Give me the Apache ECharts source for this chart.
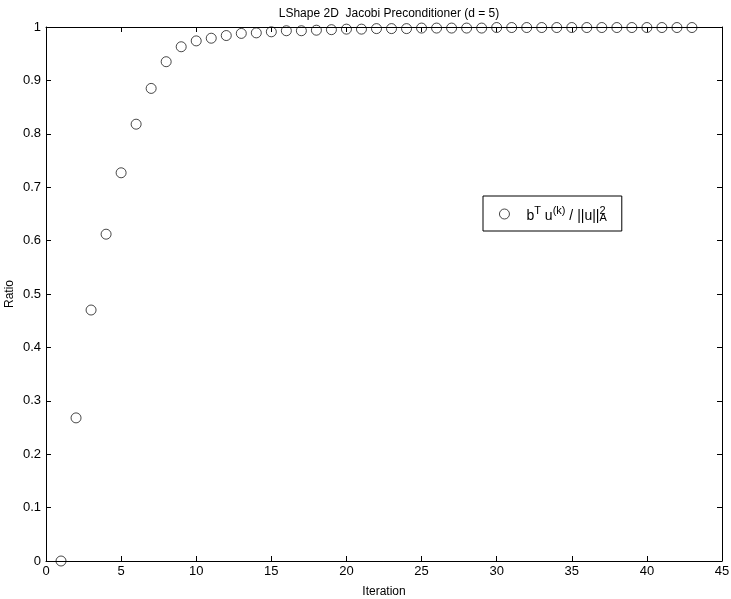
<!DOCTYPE html>
<html><head><meta charset="utf-8">
<script src="https://cdn.jsdelivr.net/npm/echarts@6/dist/echarts.min.js"></script>
<style>html,body{margin:0;padding:0;background:#fff}#c{width:731px;height:599px}</style>
</head><body><div id="c"></div>
<script>
const iterations = [1,2,3,4,5,6,7,8,9,10,11,12,13,14,15,16,17,18,19,20,21,22,23,24,25,26,27,28,29,30,31,32,33,34,35,36,37,38,39,40,41,42,43];
const ratios = [0.000,0.268,0.470,0.612,0.727,0.818,0.885,0.935,0.963,0.974,0.979,0.984,0.988,0.989,0.991,0.993,0.993,0.994,0.995,0.996,0.996,0.997,0.997,0.997,0.998,0.998,0.998,0.998,0.998,0.999,0.999,0.999,0.999,0.999,0.999,0.999,0.999,0.999,0.999,0.999,0.999,0.999,0.999];
const xTicks = [0,5,10,15,20,25,30,35,40,45];
const yTicks = [0,0.1,0.2,0.3,0.4,0.5,0.6,0.7,0.8,0.9,1];
const titleText = 'LShape 2D  Jacobi Preconditioner (d = 5)';
const seriesName = 'ratio';

const FONT = 'Liberation Sans, Arial, Helvetica, sans-serif';
const chart = echarts.init(document.getElementById('c'), null, {renderer:'canvas'});
const axBase = {
  axisLine:{show:true, onZero:false, lineStyle:{color:'#000', width:1}},
  axisTick:{show:true, inside:true, length:5, lineStyle:{color:'#000'}},
  splitLine:{show:false}
};
chart.setOption({
  backgroundColor:'#fff',
  animation:false,
  title:{text:titleText, left:384, textAlign:'center', top:3, textStyle:{fontFamily:FONT, fontSize:12, fontWeight:'normal', color:'#000'}},
  grid:{left:46, right:9, top:27, bottom:38, containLabel:false, outerBoundsMode:'none'},
  legend:{
    left:483, top:196, padding:[8,15,7,16],
    borderColor:'#000', borderWidth:1, itemWidth:10, itemHeight:10, itemGap:8,
    data:[seriesName],
    itemStyle:{color:'rgba(0,0,0,0)', borderColor:'#000', borderWidth:0.9},
    formatter: () => '{g|}{n|b}{sup|T}{n| u}{sup|(k)}{n| / ||u||}{sup2|2}{sub|A}',
    textStyle:{fontFamily:FONT, color:'#000', fontSize:13,
      rich:{
        g:{width:12},
        n:{fontFamily:FONT, fontSize:14, color:'#000', verticalAlign:'bottom', lineHeight:18},
        sup:{fontFamily:FONT, fontSize:11, color:'#000', verticalAlign:'top', padding:[0,0,8,0], lineHeight:11},
        sup2:{fontFamily:FONT, fontSize:11, color:'#000', verticalAlign:'top', padding:[0,0,8,0], lineHeight:11, width:0},
        sub:{fontFamily:FONT, fontSize:11, color:'#000', verticalAlign:'bottom', padding:[8,0,0,0], lineHeight:11}
      }}
  },
  xAxis:[
    Object.assign({type:'value', min:0, max:45, interval:5, position:'bottom',
      name:'Iteration', nameLocation:'middle', nameGap:25, nameMoveOverlap:false,
      nameTextStyle:{fontFamily:FONT, fontSize:12, color:'#000'},
      axisLabel:{fontFamily:FONT, fontSize:13, color:'#000', margin:4}}, axBase),
    Object.assign({type:'value', min:0, max:45, interval:5, position:'top', axisLabel:{show:false}}, axBase)
  ],
  yAxis:[
    Object.assign({type:'value', min:0, max:1, interval:0.1, position:'left',
      name:'Ratio', nameLocation:'middle', nameGap:30, nameRotate:90, nameMoveOverlap:false,
      nameTextStyle:{fontFamily:FONT, fontSize:12, color:'#000'},
      axisLabel:{fontFamily:FONT, fontSize:13, color:'#000', margin:5, formatter:v=>String(Math.round(v*10)/10)}}, axBase),
    Object.assign({type:'value', min:0, max:1, interval:0.1, position:'right', axisLabel:{show:false}}, axBase)
  ],
  series:[{
    name:seriesName, type:'scatter', symbol:'circle', symbolSize:10,
    itemStyle:{color:'rgba(0,0,0,0)', borderColor:'#000', borderWidth:0.9},
    data: iterations.map((x,i)=>[x, ratios[i]])
  }]
});
</script></body></html>
